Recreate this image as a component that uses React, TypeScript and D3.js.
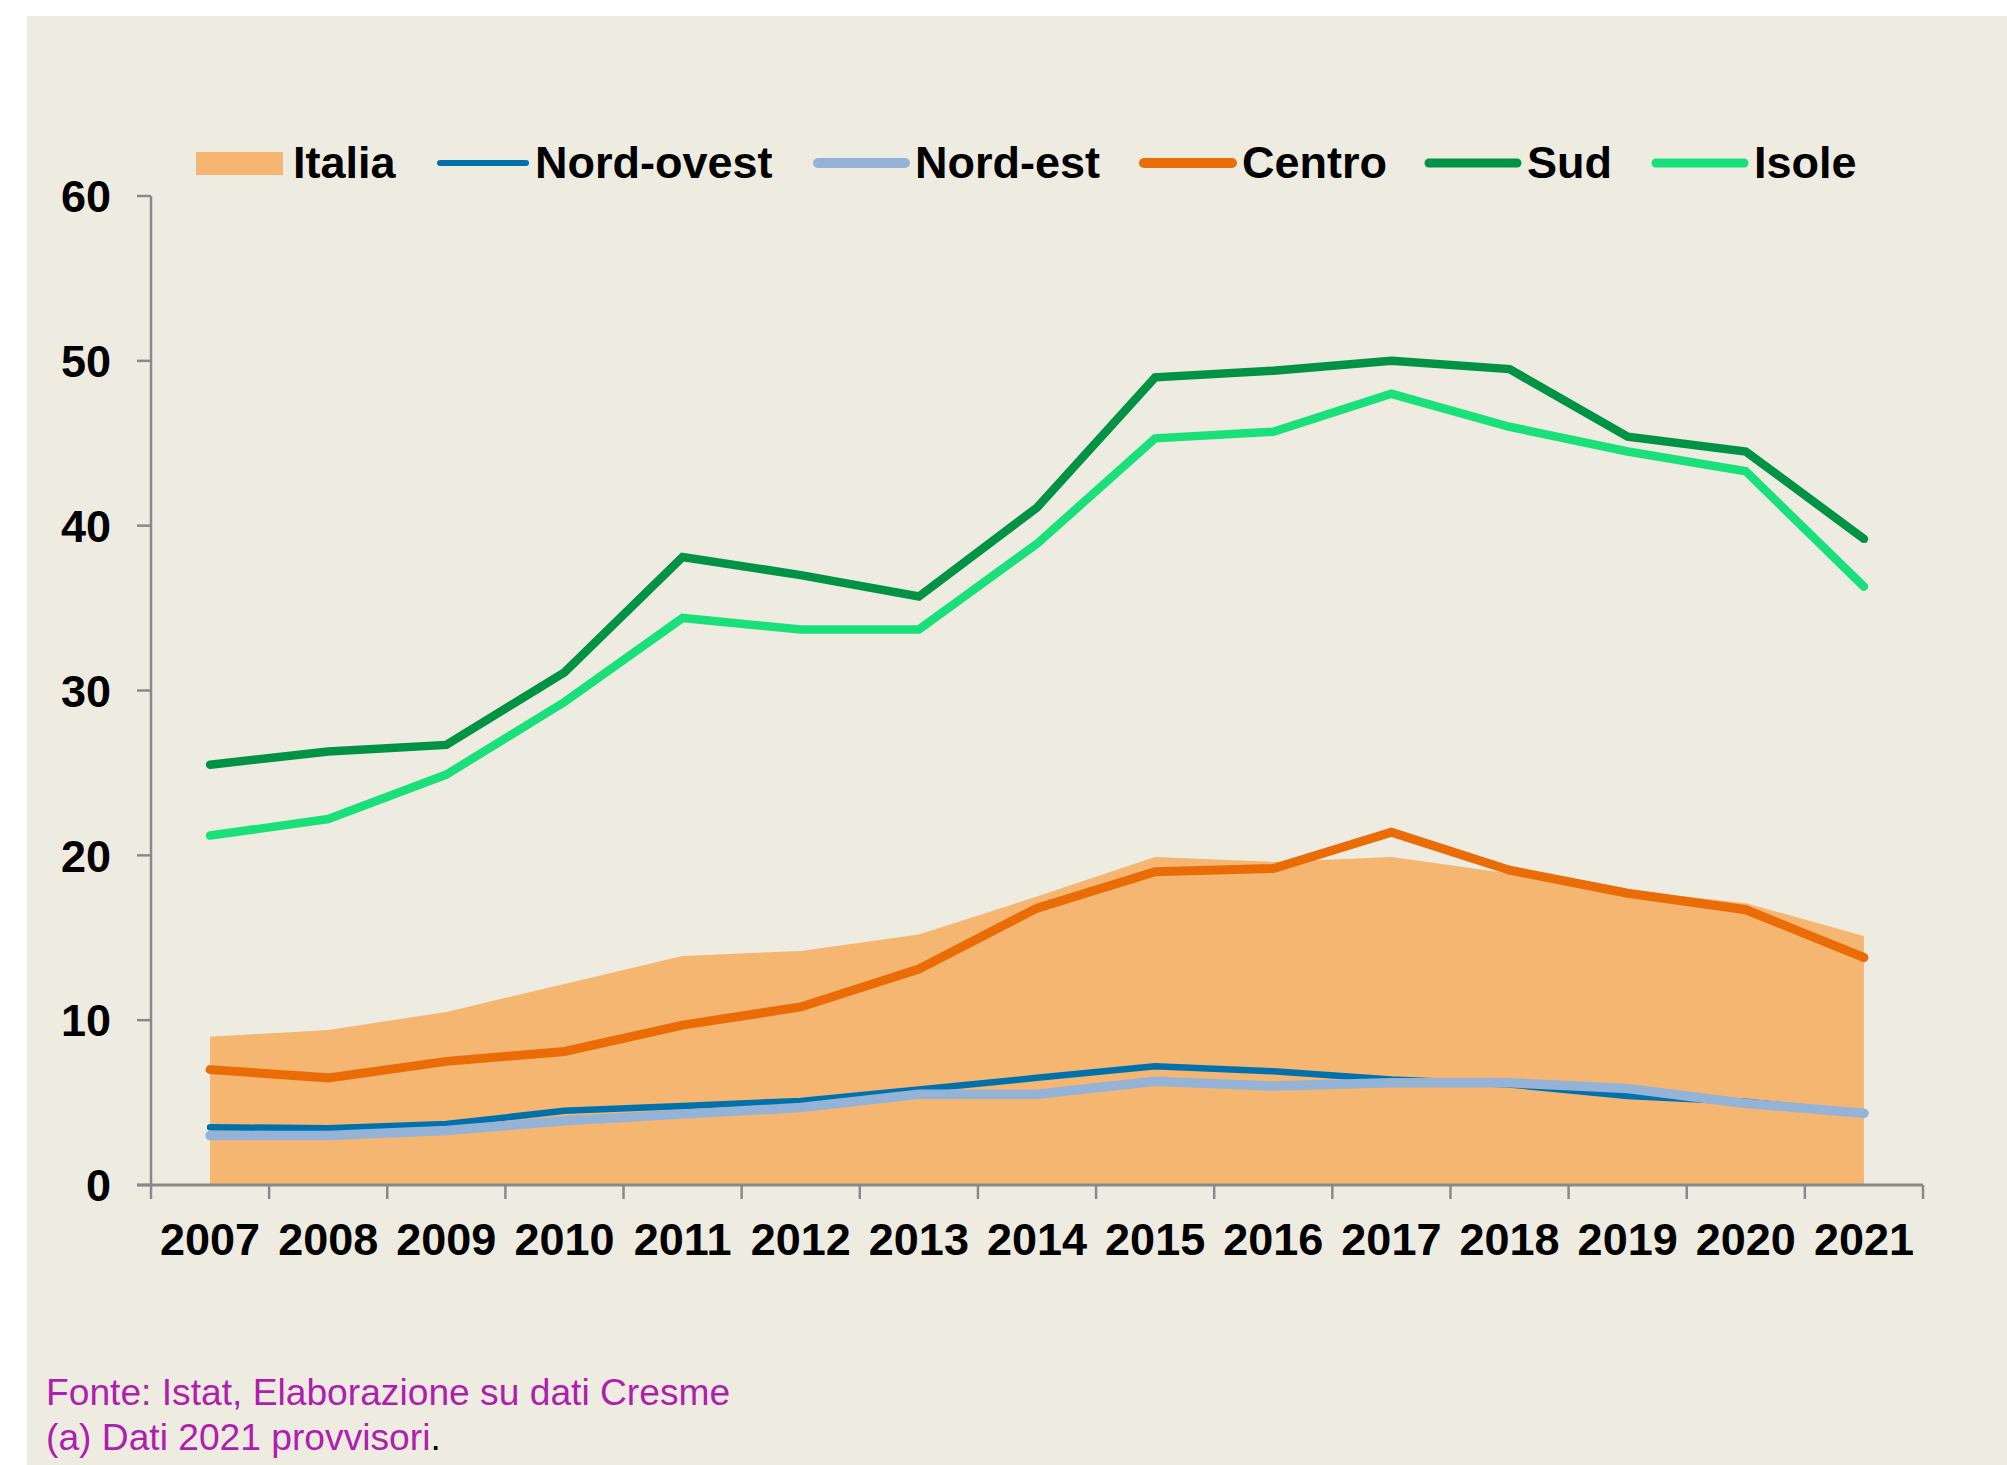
import React from "react";
import * as d3 from "d3";

const years = ["2007","2008","2009","2010","2011","2012","2013","2014","2015","2016","2017","2018","2019","2020","2021"];
const italia = [9.0, 9.4, 10.5, 12.2, 13.9, 14.2, 15.2, 17.5, 19.9, 19.6, 19.9, 18.9, 17.9, 17.1, 15.1];
const nordOvest = [3.5, 3.45, 3.7, 4.5, 4.8, 5.1, 5.8, 6.5, 7.2, 6.9, 6.4, 6.1, 5.4, 5.05, 4.35];
const nordEst = [3.0, 3.0, 3.3, 3.9, 4.3, 4.7, 5.5, 5.5, 6.3, 6.0, 6.2, 6.2, 5.85, 4.95, 4.35];
const centro = [7.0, 6.5, 7.5, 8.1, 9.7, 10.8, 13.1, 16.8, 19.0, 19.2, 21.4, 19.1, 17.7, 16.7, 13.8];
const sud = [25.5, 26.3, 26.7, 31.1, 38.1, 37.0, 35.7, 41.1, 49.0, 49.4, 50.0, 49.5, 45.4, 44.5, 39.2];
const isole = [21.2, 22.2, 24.9, 29.3, 34.4, 33.7, 33.7, 38.9, 45.3, 45.7, 48.0, 46.0, 44.5, 43.3, 36.3];
const yTicks = [0, 10, 20, 30, 40, 50, 60];
const footnotes = ["Fonte: Istat, Elaborazione su dati Cresme", "(a) Dati 2021 provvisori"];

const lineSeries = [
  { name: "Nord-ovest", values: nordOvest, color: "#0071AA", width: 6.5, legendWidth: 6 },
  { name: "Nord-est", values: nordEst, color: "#95B3D7", width: 9.5, legendWidth: 10 },
  { name: "Centro", values: centro, color: "#E96C07", width: 9, legendWidth: 10 },
  { name: "Sud", values: sud, color: "#009245", width: 8.5, legendWidth: 9 },
  { name: "Isole", values: isole, color: "#19E07A", width: 8.5, legendWidth: 9 },
];

export default function App() {
  const W = 2007, H = 1465;
  const x0 = 151, x1 = 1923;
  const yBottom = 1185, yTop = 196;
  const x = d3.scaleBand<string>().domain(years).range([x0, x1]);
  const bw = x.bandwidth();
  const cx = (d: string) => (x(d) as number) + bw / 2;
  const y = d3.scaleLinear().domain([0, 60]).range([yBottom, yTop]);

  const area = d3.area<number>()
    .x((_, i) => cx(years[i]))
    .y0(y(0))
    .y1((v) => y(v));
  const line = d3.line<number>()
    .x((_, i) => cx(years[i]))
    .y((v) => y(v));

  const font = "'Liberation Sans', Arial, sans-serif";
  const axisColor = "#898989";

  const legendItems = [
    { name: "Italia", kind: "area", x: 196, tx: 293 },
    { name: "Nord-ovest", kind: "line", x: 440, x2: 526, tx: 535 },
    { name: "Nord-est", kind: "line", x: 818, x2: 905, tx: 915 },
    { name: "Centro", kind: "line", x: 1144, x2: 1232, tx: 1242 },
    { name: "Sud", kind: "line", x: 1429, x2: 1517, tx: 1527 },
    { name: "Isole", kind: "line", x: 1656, x2: 1744, tx: 1754 },
  ];

  const boundaries = years.map((d) => x(d) as number).concat([x1]);

  return (
    <svg width={W} height={H} style={{ position: "absolute", left: 0, top: 0, background: "#fff" }}>
      <rect x={27} y={16} width={W - 27} height={H - 16} fill="#EEEBE0" />

      {/* area */}
      <path d={area(italia) as string} fill="#F5B671" />

      {/* lines */}
      {lineSeries.map((s) => (
        <path key={s.name} d={line(s.values) as string} fill="none" stroke={s.color}
          strokeWidth={s.width} strokeLinecap="round" strokeLinejoin="miter" />
      ))}

      {/* y axis */}
      <line x1={x0} x2={x0} y1={yTop} y2={yBottom} stroke={axisColor} strokeWidth={2.5} />
      {yTicks.map((t) => (
        <g key={t}>
          <line x1={137} x2={x0} y1={y(t)} y2={y(t)} stroke={axisColor} strokeWidth={2.5} />
          <text x={111} y={y(t)} dy="0.36em" textAnchor="end" fontFamily={font} fontWeight="bold" fontSize={45} fill="#000">{t}</text>
        </g>
      ))}

      {/* x axis */}
      <line x1={137} x2={x1} y1={yBottom} y2={yBottom} stroke={axisColor} strokeWidth={3} />
      {boundaries.map((b, i) => (
        <line key={i} x1={b} x2={b} y1={yBottom} y2={yBottom + 14} stroke={axisColor} strokeWidth={2.5} />
      ))}
      {years.map((d) => (
        <text key={d} x={cx(d)} y={1255} textAnchor="middle" fontFamily={font} fontWeight="bold" fontSize={45} fill="#000">{d}</text>
      ))}

      {/* legend */}
      {legendItems.map((it) => {
        const s = lineSeries.find((l) => l.name === it.name);
        return (
          <g key={it.name}>
            {it.kind === "area" ? (
              <rect x={it.x} y={152} width={87} height={23} fill="#F5B671" />
            ) : (
              <line x1={it.x} x2={it.x2} y1={163} y2={163} stroke={s!.color} strokeWidth={s!.legendWidth} strokeLinecap="round" />
            )}
            <text x={it.tx} y={178} fontFamily={font} fontWeight="bold" fontSize={45} fill="#000">{it.name}</text>
          </g>
        );
      })}

      {/* footnotes */}
      <text x={46} y={1405} fontFamily={font} fontSize={37.2} fill="#B01EAE">{footnotes[0]}</text>
      <text x={46} y={1450} fontFamily={font} fontSize={37.2} fill="#B01EAE">{footnotes[1]}<tspan fill="#000">.</tspan></text>
    </svg>
  );
}
